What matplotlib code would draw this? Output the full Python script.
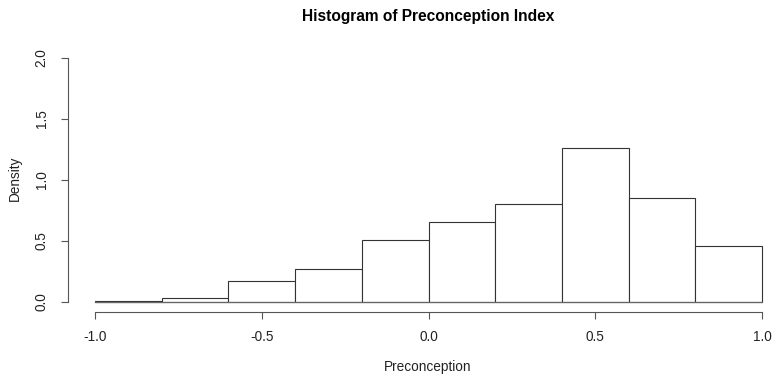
import matplotlib
matplotlib.use("Agg")
import matplotlib.pyplot as plt

plt.rcParams["font.family"] = ["Liberation Sans", "DejaVu Sans"]

# bin edges and densities
BIN_EDGES = [-1.0, -0.8, -0.6, -0.4, -0.2, 0.0, 0.2, 0.4, 0.6, 0.8, 1.0]
DENSITY = [0.005, 0.033, 0.17, 0.268, 0.508, 0.653, 0.80, 1.26, 0.855, 0.46]
X_TICKS = [-1.0, -0.5, 0.0, 0.5, 1.0]
Y_TICKS = [0.0, 0.5, 1.0, 1.5, 2.0]

W, H = 773, 375
fig = plt.figure(figsize=(W / 100, H / 100), dpi=100)

# plot region in pixels (R style, 4% padding around data range)
left, right = 68.3, 788.7
top, bottom = 48.2, 311.8
ax = fig.add_axes([left / W, 1 - bottom / H, (right - left) / W, (bottom - top) / H])

widths = [b - a for a, b in zip(BIN_EDGES[:-1], BIN_EDGES[1:])]
ax.bar(BIN_EDGES[:-1], DENSITY, width=widths, align="edge",
       facecolor="white", edgecolor="#333333", linewidth=0.8)
ax.plot([BIN_EDGES[0], BIN_EDGES[-1]], [0, 0], color="#666666", linewidth=0.9)

ax.set_xlim(-1.08, 1.08)
ax.set_ylim(-0.08, 2.08)

for s in ["top", "right"]:
    ax.spines[s].set_visible(False)
ax.spines["bottom"].set_bounds(-1, 1)
ax.spines["left"].set_bounds(0, 2)
for s in ["bottom", "left"]:
    ax.spines[s].set_color("#555555")
    ax.spines[s].set_linewidth(0.8)

ax.set_xticks(X_TICKS)
ax.set_xticklabels([f"{v:.1f}" for v in X_TICKS])
ax.set_yticks(Y_TICKS)
ax.set_yticklabels([f"{v:.1f}" for v in Y_TICKS], rotation=90, va="center")
ax.tick_params(axis="x", length=5, width=0.8, color="#555555", pad=8,
               labelsize=9.8, labelcolor="#222222")
ax.tick_params(axis="y", length=5, width=0.8, color="#555555", pad=9,
               labelsize=9.8, labelcolor="#222222")

fig.text(428 / W, 1 - 17 / H, "Histogram of Preconception Index",
         ha="center", va="center", fontsize=11.2, fontweight="bold")
fig.text(428 / W, 1 - 367 / H, "Preconception", ha="center", va="center",
         fontsize=9.8, color="#222222")
fig.text(15 / W, 1 - 178 / H, "Density", ha="center", va="center",
         rotation=90, fontsize=9.8, color="#222222")

fig.savefig("out.png", dpi=100)
